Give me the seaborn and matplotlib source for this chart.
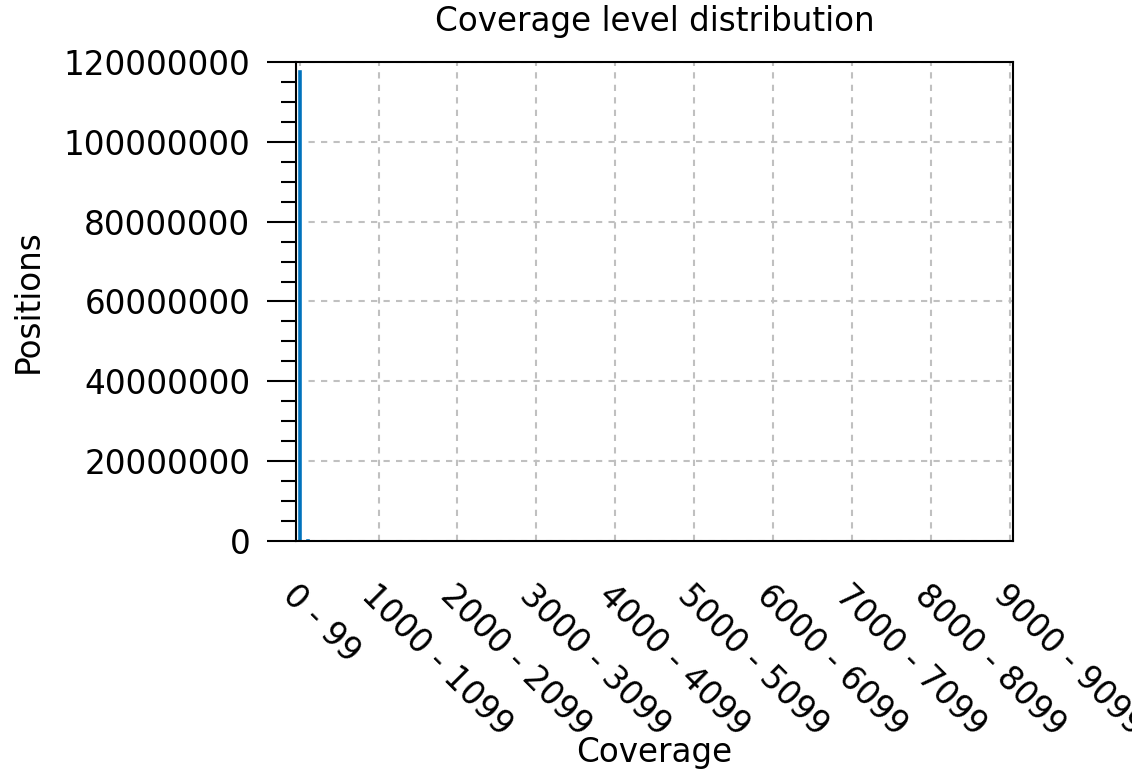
import pandas as pd
import matplotlib
matplotlib.use("Agg")
import matplotlib.pyplot as plt
from matplotlib.ticker import MultipleLocator
import seaborn as sns

# Coverage bins of width 100 and number of positions in each
bin_starts = list(range(0, 9100, 100))
bin_labels = [f"{s} - {s + 99}" for s in bin_starts]
positions = [118200000, 700000] + [0] * (len(bin_starts) - 2)
tick_every = 10

df = pd.DataFrame({"Coverage": bin_labels, "Positions": positions})

sns.set_style("white")
plt.rcParams['font.family'] = ['DejaVu Sans']
plt.rcParams['text.color'] = 'black'
plt.rcParams['axes.labelcolor'] = 'black'
plt.rcParams['xtick.color'] = 'black'
plt.rcParams['ytick.color'] = 'black'

fs = 23.5

fig = plt.figure(figsize=(11.32, 7.71), dpi=100)
ax = fig.add_axes([0.2615, 0.2983, 0.6336, 0.6213])

sns.barplot(ax=ax, data=df, x="Coverage", y="Positions", color="#0072bd",
            width=0.6, saturation=1, order=bin_labels)

ax.set_xlim(-0.45, len(bin_starts) - 0.6)
ax.set_ylim(0, 120000000)
ax.yaxis.set_major_locator(MultipleLocator(20000000))
ax.yaxis.set_minor_locator(MultipleLocator(5000000))
ax.ticklabel_format(axis="y", style="plain", useOffset=False)

ax.set_xticks(range(0, len(bin_starts), tick_every))
ax.set_xticklabels(bin_labels[::tick_every], rotation=-45, ha="left", va="top",
                   rotation_mode="anchor")

ax.tick_params(axis="y", which="major", direction="out", length=21, width=1.5,
               labelsize=fs, pad=12, left=True)
ax.tick_params(axis="y", which="minor", direction="out", length=11, width=1.5, left=True)
ax.tick_params(axis="x", which="major", length=0, labelsize=fs, pad=27)

ax.grid(True, which="major", linestyle=(0, (3, 3)), color="#c0c0c0", linewidth=1.5)
ax.set_axisbelow(True)
for s in ax.spines.values():
    s.set_linewidth(1.5)
    s.set_color("black")

ax.set_title("Coverage level distribution", fontsize=fs, y=1.0835, pad=0, va="center")
ax.set_xlabel("Coverage", fontsize=fs, va="center")
ax.xaxis.set_label_coords(0.5, -0.4405)
ax.set_ylabel("Positions", fontsize=fs, va="center")
ax.yaxis.set_label_coords(-0.374, 0.5)

fig.savefig("out.png", dpi=100)
